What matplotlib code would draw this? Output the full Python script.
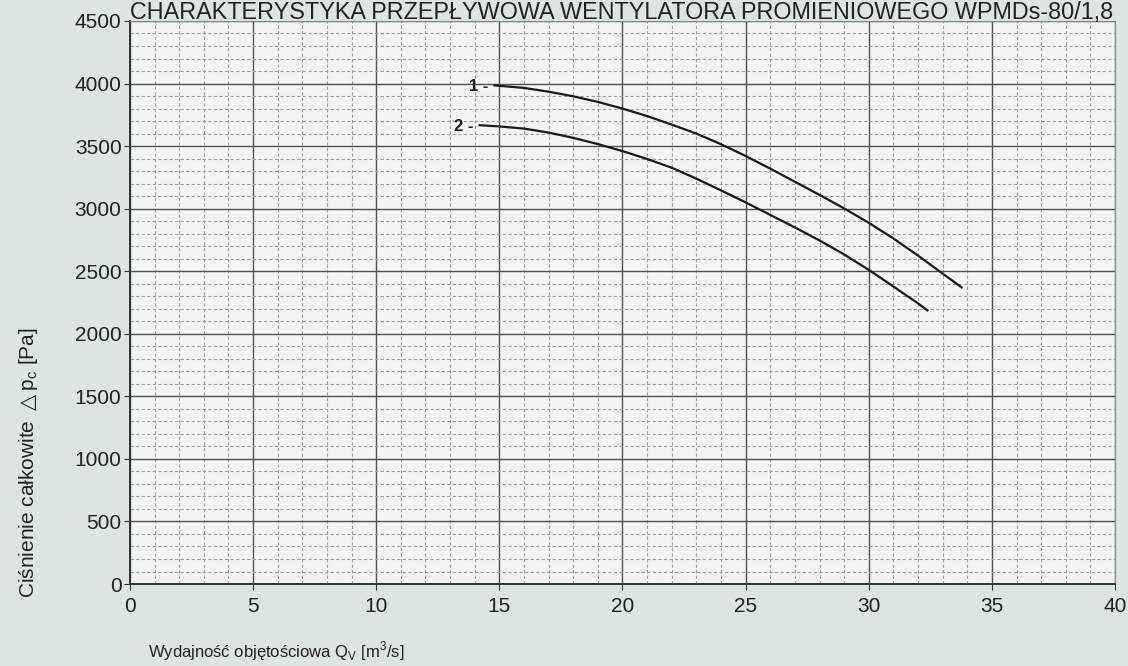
import matplotlib.pyplot as plt
from matplotlib.ticker import MultipleLocator

plt.rcParams['font.family'] = ['Liberation Sans', 'DejaVu Sans']

title = "CHARAKTERYSTYKA PRZEPŁYWOWA WENTYLATORA PROMIENIOWEGO WPMDs-80/1,8"

# krzywa 1 (odczyt z wykresu)
q1 = [14.8, 16, 17, 18, 19, 20, 21, 22, 23, 24, 25, 26, 27, 28, 29, 30, 31, 32, 33, 33.77]
p1 = [3985, 3965, 3935, 3898, 3853, 3800, 3740, 3672, 3600, 3515, 3421, 3320, 3215,
      3110, 3002, 2887, 2762, 2625, 2481, 2371]
# krzywa 2
q2 = [14.2, 15, 16, 17, 18, 19, 20, 21, 22, 23, 24, 25, 26, 27, 28, 29, 30, 31, 32, 32.38]
p2 = [3667, 3657, 3640, 3608, 3566, 3516, 3460, 3397, 3327, 3240, 3146, 3050, 2950,
      2850, 2746, 2634, 2511, 2378, 2243, 2187]

fig = plt.figure(figsize=(11.28, 6.66), dpi=100, facecolor='#dce5e0')
ax = fig.add_axes([0.1152, 0.1231, 0.8733, 0.8454])
ax.set_facecolor('#f2f5f3')

ax.set_xlim(0, 40)
ax.set_ylim(0, 4500)
ax.xaxis.set_major_locator(MultipleLocator(5))
ax.xaxis.set_minor_locator(MultipleLocator(1))
ax.yaxis.set_major_locator(MultipleLocator(500))
ax.yaxis.set_minor_locator(MultipleLocator(100))

ax.grid(which='major', color='#505050', lw=1.0)
ax.grid(which='minor', color='#a0a0a0', lw=0.8, ls=(0, (3, 2)))
ax.set_axisbelow(True)

for s in ['top', 'right']:
    ax.spines[s].set_color('#888888')
for s in ['left', 'bottom']:
    ax.spines[s].set_color('#333333')
    ax.spines[s].set_linewidth(1.4)

ax.tick_params(which='major', labelsize=15, length=4, color='#333333', labelcolor='#222222')
ax.tick_params(which='minor', length=0)
ax.tick_params(axis='x', pad=5)
ax.tick_params(axis='y', pad=2)

ax.plot(q1, p1, color='#1a1a1a', lw=1.6, solid_joinstyle='round')
ax.plot(q2, p2, color='#1a1a1a', lw=1.6, solid_joinstyle='round')
ax.text(q1[0] - 0.25, p1[0] - 10, "1 -", ha='right', va='center', fontsize=12, weight='bold', color='#222222')
ax.text(q2[0] - 0.25, p2[0] - 10, "2 -", ha='right', va='center', fontsize=12, weight='bold', color='#222222')

fig.text(0.551, 0.981, title, ha='center', va='center', fontsize=16.8, color='#222222')
fig.text(0.131, 0.022, "Wydajność objętościowa Q$_\\mathregular{V}$ [m$^\\mathregular{3}$/s]",
         ha='left', va='center', fontsize=12, color='#222222')
fig.text(0.025, 0.305, "Ciśnienie całkowite $\\triangle$p$_\\mathregular{c}$ [Pa]", rotation=90,
         ha='center', va='center', fontsize=15, color='#222222')

fig.savefig('out.png', dpi=100, facecolor=fig.get_facecolor())
